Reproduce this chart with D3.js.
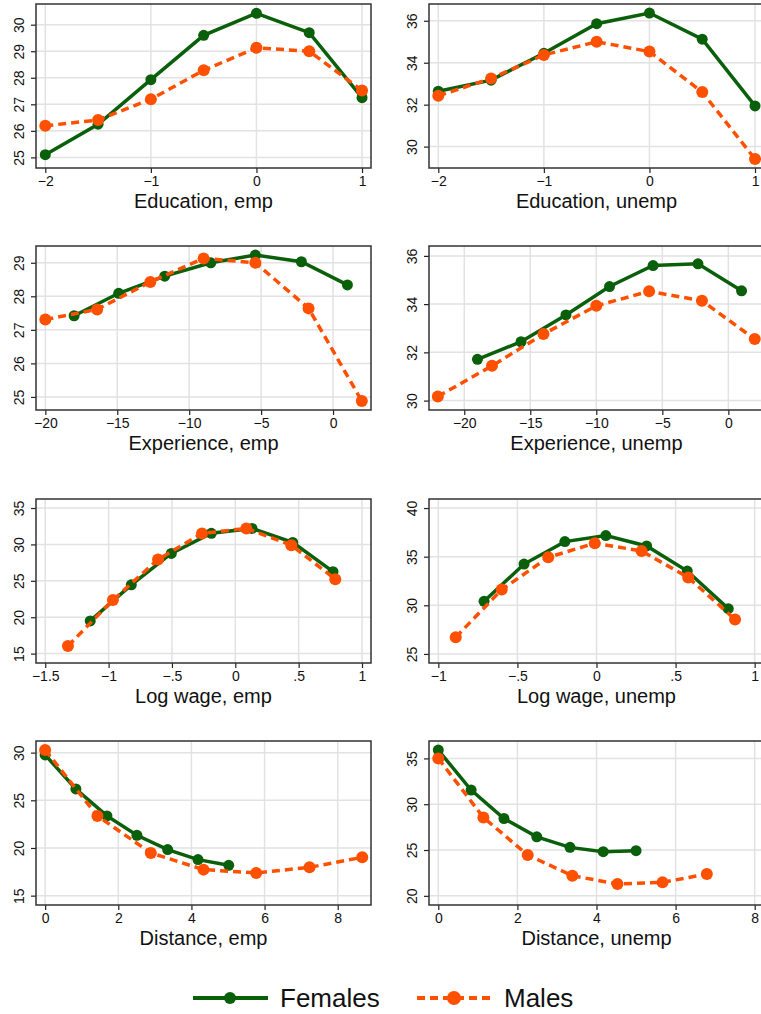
<!DOCTYPE html>
<html>
<head>
<meta charset="utf-8">
<script src="https://cdn.jsdelivr.net/npm/d3@7"></script>
<style>
  html, body { margin: 0; padding: 0; background: #fff; }
  svg { display: block; }
  svg text { font-family: "Liberation Sans", Arial, sans-serif; fill: #111; }
  .tick-label { font-size: 14px; }
  .panel-title { font-size: 20px; }
  .legend-label { font-size: 26px; }
</style>
</head>
<body>
<svg width="761" height="1014"></svg>
<script>
// values
const eduX = [-2, -1.5, -1, -0.5, 0, 0.5, 1]
const eduEmpFemales = [25.1, 26.25, 27.93, 29.6, 30.43, 29.7, 27.25]
const eduEmpMales = [26.19, 26.41, 27.19, 28.28, 29.13, 29.0, 27.52]
const eduUnempFemales = [32.64, 33.17, 34.45, 35.86, 36.37, 35.12, 31.94]
const eduUnempMales = [32.42, 33.25, 34.37, 35.0, 34.53, 32.6, 29.41]

const expEmpFemalesX = [-18.0, -14.9, -11.7, -8.5, -5.4, -2.2, 1.0]
const expEmpFemales = [27.42, 28.09, 28.6, 29.0, 29.23, 29.03, 28.34]
const expEmpMalesX = [-20.0, -16.4, -12.7, -9.0, -5.4, -1.7, 2.0]
const expEmpMales = [27.31, 27.61, 28.43, 29.13, 29.0, 27.64, 24.88]
const expUnempFemalesX = [-19.0, -15.7, -12.3, -9.0, -5.7, -2.3, 1.0]
const expUnempFemales = [31.71, 32.44, 33.55, 34.73, 35.6, 35.67, 34.55]
const expUnempMalesX = [-22.0, -17.9, -14.0, -10.0, -6.0, -2.0, 2.0]
const expUnempMales = [30.17, 31.44, 32.76, 33.93, 34.53, 34.14, 32.55]

const wageEmpFemalesX = [-1.145, -0.821, -0.505, -0.189, 0.132, 0.453, 0.771]
const wageEmpFemales = [19.49, 24.45, 28.76, 31.53, 32.2, 30.28, 26.26]
const wageEmpMalesX = [-1.321, -0.966, -0.61, -0.263, 0.087, 0.442, 0.789]
const wageEmpMales = [16.06, 22.35, 27.93, 31.5, 32.2, 29.9, 25.23]
const wageUnempFemalesX = [-0.711, -0.458, -0.2, 0.059, 0.317, 0.574, 0.833]
const wageUnempFemales = [30.41, 34.24, 36.55, 37.17, 36.1, 33.52, 29.66]
const wageUnempMalesX = [-0.89, -0.599, -0.305, -0.011, 0.285, 0.58, 0.876]
const wageUnempMales = [26.72, 31.62, 34.93, 36.38, 35.59, 32.86, 28.55]

const distEmpFemalesX = [0, 0.84, 1.69, 2.51, 3.35, 4.18, 5.02]
const distEmpFemales = [29.76, 26.19, 23.36, 21.33, 19.83, 18.78, 18.18]
const distEmpMalesX = [0, 1.43, 2.89, 4.33, 5.77, 7.23, 8.67]
const distEmpMales = [30.28, 23.36, 19.48, 17.73, 17.38, 17.97, 19.02]
const distUnempFemalesX = [0, 0.83, 1.66, 2.49, 3.33, 4.17, 5.0]
const distUnempFemales = [35.91, 31.54, 28.44, 26.44, 25.29, 24.82, 24.93]
const distUnempMalesX = [0, 1.14, 2.26, 3.39, 4.53, 5.67, 6.79]
const distUnempMales = [35.0, 28.56, 24.45, 22.2, 21.29, 21.47, 22.38]

const titles = ['Education, emp', 'Education, unemp', 'Experience, emp', 'Experience, unemp',
                'Log wage, emp', 'Log wage, unemp', 'Distance, emp', 'Distance, unemp']
const eduTicks = [-2, -1, 0, 1]
const expTicks = [-20, -15, -10, -5, 0]
const wageEmpTicks = [-1.5, -1, -0.5, 0, 0.5, 1]
const wageUnempTicks = [-1, -0.5, 0, 0.5, 1]
const distTicks = [0, 2, 4, 6, 8]
const legendLabels = ['Females', 'Males']

const green = '#0a5f0a'
const orange = '#ff5000'

const panels = [
    { fx: eduX, fy: eduEmpFemales, mx: eduX, my: eduEmpMales, xt: eduTicks, xd: [-2.088, 1.085], yt: [25, 26, 27, 28, 29, 30], yd: [24.6, 30.78] },
    { fx: eduX, fy: eduUnempFemales, mx: eduX, my: eduUnempMales, xt: eduTicks, xd: [-2.088, 1.085], yt: [30, 32, 34, 36], yd: [28.98, 36.8] },
    { fx: expEmpFemalesX, fy: expEmpFemales, mx: expEmpMalesX, my: expEmpMales, xt: expTicks, xd: [-20.65, 2.64], yt: [25, 26, 27, 28, 29], yd: [24.61, 29.5] },
    { fx: expUnempFemalesX, fy: expUnempFemales, mx: expUnempMalesX, my: expUnempMales, xt: expTicks, xd: [-22.67, 2.7], yt: [30, 32, 34, 36], yd: [29.61, 36.41] },
    { fx: wageEmpFemalesX, fy: wageEmpFemales, mx: wageEmpMalesX, my: wageEmpMales, xt: wageEmpTicks, xd: [-1.573, 1.071], yt: [15, 20, 25, 30, 35], yd: [13.71, 36.24] },
    { fx: wageUnempFemalesX, fy: wageUnempFemales, mx: wageUnempMalesX, my: wageUnempMales, xt: wageUnempTicks, xd: [-1.059, 1.059], yt: [25, 30, 35, 40], yd: [24.07, 40.93] },
    { fx: distEmpFemalesX, fy: distEmpFemales, mx: distEmpMalesX, my: distEmpMales, xt: distTicks, xd: [-0.25, 8.91], yt: [15, 20, 25, 30], yd: [14.02, 31.22] },
    { fx: distUnempFemalesX, fy: distUnempFemales, mx: distUnempMalesX, my: distUnempMales, xt: distTicks, xd: [-0.235, 8.235], yt: [20, 25, 30, 35], yd: [19.0, 36.9] }
]

const svg = d3.select('svg')
const colLeft = [36, 429]
const rowTop = [4, 246, 499, 741]
const innerWidth = 335
const innerHeight = 164

// Stata style numbers: −1, −.5, .5
const fmt = v => {
    let s = String(+v.toFixed(2))
    s = s.replace(/^(-?)0\./, '$1.')
    return s.replace('-', '\u2212')
}

const drawSeries = (g, xs, ys, xScale, yScale, color, dashed, r) => {
    const pts = xs.map((x, i) => [x, ys[i]])
    g.append('path')
        .datum(pts)
        .attr('fill', 'none')
        .attr('stroke', color)
        .attr('stroke-width', 3.5)
        .attr('stroke-dasharray', dashed ? '8,5' : null)
        .attr('d', d3.line().x(d => xScale(d[0])).y(d => yScale(d[1])))
    g.selectAll(null).data(pts)
        .enter().append('circle')
            .attr('cx', d => xScale(d[0]))
            .attr('cy', d => yScale(d[1]))
            .attr('r', r)
            .attr('fill', color)
}

panels.forEach((p, i) => {
    const g = svg.append('g')
        .attr('transform', `translate(${colLeft[i % 2]}, ${rowTop[Math.floor(i / 2)]})`)

    const xScale = d3.scaleLinear().domain(p.xd).range([0, innerWidth])
    const yScale = d3.scaleLinear().domain(p.yd).range([innerHeight, 0])

    // grid
    g.append('g').selectAll('line').data(p.xt).enter().append('line')
        .attr('x1', d => xScale(d)).attr('x2', d => xScale(d))
        .attr('y1', 0).attr('y2', innerHeight)
        .attr('stroke', '#e2e2e2').attr('stroke-width', 1.5)
    g.append('g').selectAll('line').data(p.yt).enter().append('line')
        .attr('y1', d => yScale(d)).attr('y2', d => yScale(d))
        .attr('x1', 0).attr('x2', innerWidth)
        .attr('stroke', '#e2e2e2').attr('stroke-width', 1.5)

    const xAxis = g.append('g')
        .attr('transform', `translate(0, ${innerHeight})`)
        .call(d3.axisBottom(xScale).tickValues(p.xt).tickFormat(fmt).tickSize(5).tickPadding(3))
    const yAxis = g.append('g')
        .call(d3.axisLeft(yScale).tickValues(p.yt).tickFormat(fmt).tickSize(5).tickPadding(3))

    ;[xAxis, yAxis].forEach(ax => {
        ax.attr('font-size', null).attr('font-family', null).attr('fill', null)
        ax.select('.domain').remove()
        ax.selectAll('line').attr('stroke', '#222').attr('stroke-width', 1.2)
        ax.selectAll('text').attr('class', 'tick-label').attr('fill', null)
    })
    // y labels stand upright, as in the original
    yAxis.selectAll('text')
        .attr('text-anchor', 'middle')
        .attr('x', null).attr('dy', null)
        .attr('transform', 'translate(-17.5, 0) rotate(-90)')
        .attr('y', 5)

    drawSeries(g, p.fx, p.fy, xScale, yScale, green, false, 5.5)
    drawSeries(g, p.mx, p.my, xScale, yScale, orange, true, 6)

    g.append('rect')
        .attr('width', innerWidth).attr('height', innerHeight)
        .attr('fill', 'none')
        .attr('stroke', '#333').attr('stroke-width', 1.5)

    g.append('text')
        .attr('class', 'panel-title')
        .attr('x', innerWidth / 2)
        .attr('y', innerHeight + 40)
        .attr('text-anchor', 'middle')
        .text(titles[i])
})

// legend
const legend = svg.append('g').attr('transform', 'translate(0, 998)')
const legendItems = [
    { x: 193, color: green, dashed: false, r: 6 },
    { x: 417, color: orange, dashed: true, r: 7 }
]
legendItems.forEach((item, i) => {
    legend.append('line')
        .attr('x1', item.x).attr('x2', item.x + 75)
        .attr('stroke', item.color).attr('stroke-width', 4)
        .attr('stroke-dasharray', item.dashed ? '8,5' : null)
    legend.append('circle')
        .attr('cx', item.x + 37).attr('r', item.r)
        .attr('fill', item.color)
    legend.append('text')
        .attr('class', 'legend-label')
        .attr('x', item.x + 87).attr('y', 9)
        .text(legendLabels[i])
})
</script>
</body>
</html>
